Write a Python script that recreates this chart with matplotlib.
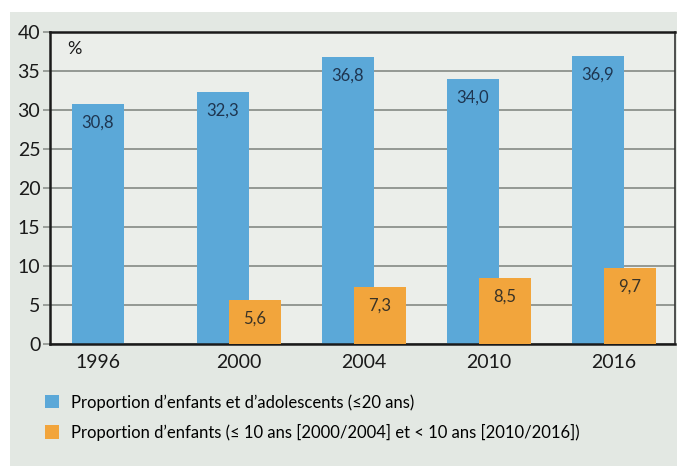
import matplotlib.pyplot as plt
from matplotlib.patches import Patch, Rectangle
import numpy as np

plt.rcParams['font.family'] = ['Lato', 'DejaVu Sans']

years = ["1996", "2000", "2004", "2010", "2016"]
ado = [30.8, 32.3, 36.8, 34.0, 36.9]          # <= 20 ans
enfants = [None, 5.6, 7.3, 8.5, 9.7]          # <= 10 ans / < 10 ans
labels = ["Proportion d\u2019enfants et d\u2019adolescents (\u226420 ans)",
          "Proportion d\u2019enfants (\u2264 10 ans [2000/2004] et < 10 ans [2010/2016])"]

blue = '#5ba8d8'
orange = '#f2a53c'
grid_c = '#8c918c'

fig = plt.figure(figsize=(6.77, 4.66), dpi=100)
fig.patch.set_facecolor('white')
# light grey panel behind the whole chart
fig.add_artist(Rectangle((10 / 677, 0), 1, 1 - 12 / 466, transform=fig.transFigure,
                         facecolor='#e3e8e3', edgecolor='none', zorder=-10))

ax = fig.add_axes([50 / 677, 122 / 466, 625 / 677, 312 / 466])
ax.set_facecolor('#ebeeea')

x = np.arange(len(years))
off = 0.128
w = 0.416

ax.bar(x - off, ado, w, color=blue, zorder=2)
xo = [xi + off for xi, v in zip(x, enfants) if v is not None]
vo = [v for v in enfants if v is not None]
ax.bar(xo, vo, w, color=orange, zorder=3)

for xi, v in zip(x - off, ado):
    ax.annotate(f"{v:.1f}".replace('.', ','), (xi, v), xytext=(0, -13.5),
                textcoords='offset points', ha='center', va='center',
                fontsize=12, color='#1e3550', zorder=4)
for xi, v in zip(xo, vo):
    ax.annotate(f"{v:.1f}".replace('.', ','), (xi, v), xytext=(0, -13.5),
                textcoords='offset points', ha='center', va='center',
                fontsize=12, color='#3a3326', zorder=4)

ax.set_ylim(0, 40)
ax.set_xlim(-0.51, 4.49)
ax.set_yticks(range(0, 41, 5))
ax.tick_params(axis='y', length=5, width=1.2, color=grid_c, labelsize=14, pad=2,
               labelcolor='#1a1a1a')
ticks = [x[0] - off] + list(x[1:])
ax.set_xticks(ticks, years)
ax.tick_params(axis='x', length=0, labelsize=14, pad=7, labelcolor='#1a1a1a')
ax.yaxis.grid(True, color=grid_c, lw=1.3, zorder=1)
ax.set_axisbelow(True)

for s in ['left', 'bottom', 'top']:
    ax.spines[s].set_linewidth(1.8)
    ax.spines[s].set_color('#1a1a1a')
ax.spines['right'].set_linewidth(1.2)
ax.spines['right'].set_color('#333333')

ax.text(0.027, 0.945, "%", transform=ax.transAxes, fontsize=13, va='center',
        color='#1a1a1a')

handles = [Patch(facecolor=blue), Patch(facecolor=orange)]
fig.legend(handles, labels, loc='upper left', bbox_to_anchor=(45 / 677, 1 - 394 / 466),
           frameon=False, fontsize=12, handlelength=0.85, handleheight=0.85,
           handletextpad=0.7, labelspacing=0.8, borderpad=0, borderaxespad=0)

fig.savefig('out.png', dpi=100)
